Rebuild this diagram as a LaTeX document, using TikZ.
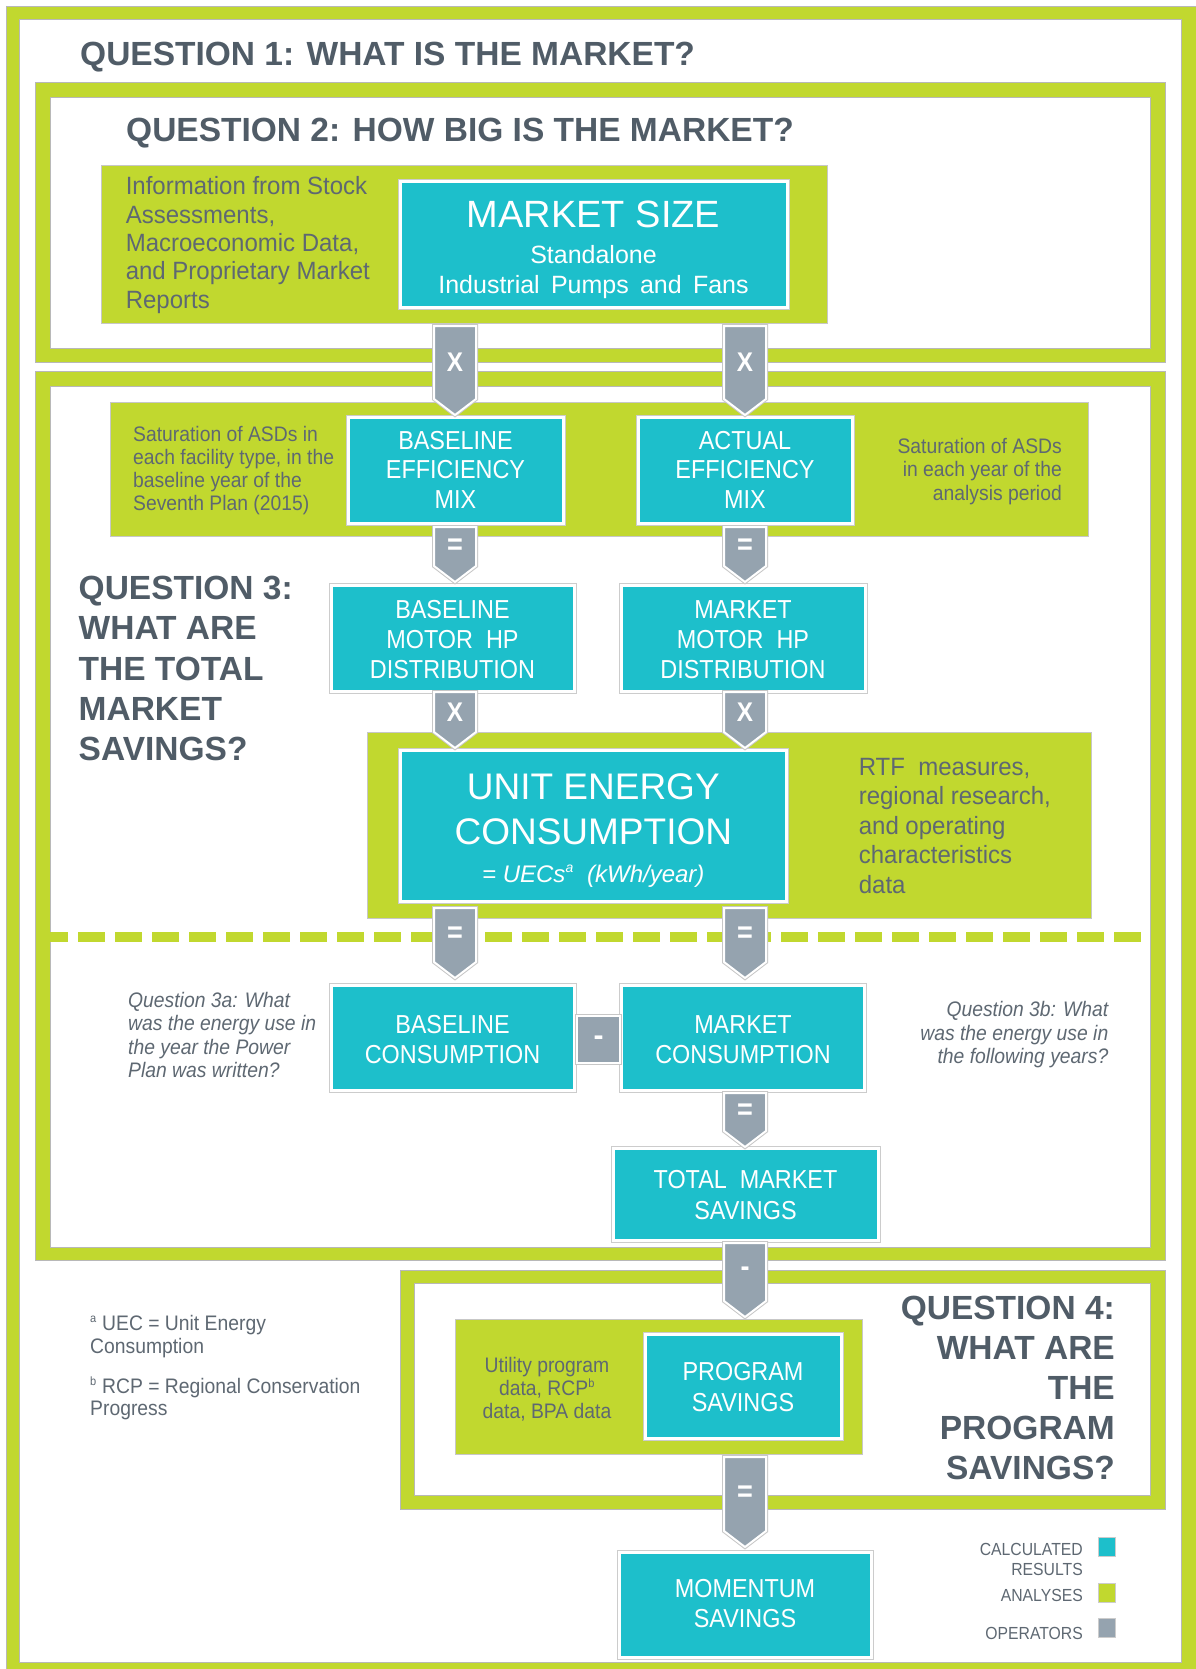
\documentclass[tikz,border=0pt]{standalone}
\usepackage{fontspec}
\setmainfont{Liberation Sans}
\newfontfamily\nar[FakeStretch=0.9]{Liberation Sans}
\newfontfamily\nars[FakeStretch=0.92]{Liberation Sans}
\newfontfamily\narb[FakeStretch=0.96]{Liberation Sans}
\definecolor{lime}{HTML}{C1D82F}
\definecolor{tealc}{HTML}{1DBFCB}
\definecolor{opg}{HTML}{95A3AF}
\definecolor{ttl}{HTML}{505C67}
\definecolor{txg}{HTML}{5E6872}
\newcommand\calcbox[5]{\node[calc, minimum width={#4-#2}, minimum height={#5-#3}] (#1) at ({(#2+#4)/2},{(#3+#5)/2}) {};}
\newcommand\anabox[5]{\node[ana, minimum width={#4-#2}, minimum height={#5-#3}] (#1) at ({(#2+#4)/2},{(#3+#5)/2}) {};}
\newcommand\oper[5]{%
  \draw[op] ({#2-21},#3) -- ({#2+21},#3) -- ({#2+21},{#4-16}) -- (#2,#4) -- ({#2-21},{#4-16}) -- cycle;
  \node[oplab] (#1) at (#2,{(#3+#4-16)/2}) {#5};}
\begin{document}
\begin{tikzpicture}[x=1pt,y=-1pt,
  frame/.style={fill=lime, draw=black!28, line width=0.8},
  inner/.style={fill=white, draw=black!28, line width=0.8},
  ana/.style={fill=lime, draw=black!22, line width=0.8, inner sep=0},
  calc/.style={fill=tealc, draw=white, line width=3, inner sep=0, preaction={draw=black!20, line width=5}},
  op/.style={fill=opg, draw=white, line width=2, preaction={draw=black!22, line width=4}},
  oplab/.style={text=white, inner sep=0, font=\nar\fontsize{27}{27}\selectfont\bfseries},
  opbold/.style={font=\fontsize{30}{30}\selectfont\bfseries},
  ttlt/.style={text=ttl, inner sep=0, font=\fontsize{33.5}{40}\selectfont\bfseries},
  calct/.style={text=white, inner sep=0, anchor=base, font=\nar\fontsize{26}{30}\selectfont},
  anat/.style={text=txg, inner sep=0, font=\narb\fontsize{25}{28}\selectfont},
  smt/.style={text=txg, inner sep=0, font=\nars\fontsize{21}{23}\selectfont},
  legt/.style={text=txg, inner sep=0, anchor=base east, font=\nar\fontsize{17.5}{20}\selectfont}]
\useasboundingbox (0,0) rectangle (1195,1669);
% outer frame (Question 1)
\fill[lime] (6,6) rectangle (1200,1675);
\draw[black!28, line width=0.8] (6,6) -- (1200,6) (6,6) -- (6,1675);
\draw[inner] (19,19) rectangle (1181,1662);
% Question 2 frame
\draw[frame] (35,82) rectangle (1165,362);
\draw[inner] (50,97) rectangle (1150,348);
% Question 3 frame
\draw[frame] (35,371) rectangle (1165,1260);
\draw[inner] (50,386) rectangle (1150,1247);
\draw[lime, line width=10, dash pattern=on 27pt off 10pt, dash phase=9pt] (50,937) -- (1150,937);
% Question 4 frame
\draw[frame] (400,1270) rectangle (1165,1509);
\draw[inner] (414.6,1283) rectangle (1150,1495);
% analyses
\anabox{a1}{101}{165}{827}{323}
\anabox{a2}{110}{402}{1088}{536}
\anabox{a3}{367.6}{732}{1091}{918}
\anabox{a4}{455}{1319}{862}{1454}
% calculated results
\calcbox{mkt}{400}{182}{787}{308}
\calcbox{be}{348}{417}{563}{523}
\calcbox{ae}{638}{417}{852}{523}
\calcbox{bm}{331}{585}{574}{691}
\calcbox{mm}{621}{585}{865}{691}
\calcbox{uec}{400.6}{750}{786}{901}
\calcbox{bc}{331}{985}{574}{1090}
\calcbox{mc}{621}{985}{864.5}{1090}
\calcbox{tms}{613}{1148}{878}{1240}
\calcbox{ps}{645}{1334}{841.7}{1438}
\calcbox{ms}{619}{1552}{871}{1657}
% operators
\oper{o1}{455}{326}{415}{X}
\oper{o2}{745}{326}{415}{X}
\oper{o3}{455}{527}{582}{\fontsize{30}{30}\selectfont =}
\oper{o4}{745}{527}{582}{\fontsize{30}{30}\selectfont =}
\oper{o5}{455}{692}{748}{X}
\oper{o6}{745}{692}{748}{X}
\oper{o7}{455}{908}{978}{\fontsize{30}{30}\selectfont =}
\oper{o8}{745}{908}{978}{\fontsize{30}{30}\selectfont =}
\draw[op] (577,1016) rectangle (620,1063);
\node[oplab, opbold] (o9) at (598.5,1041) {-};
\oper{o10}{745}{1093}{1147}{\fontsize{30}{30}\selectfont =}
\oper{o11}{745}{1243}{1317}{\fontsize{30}{30}\selectfont -}
\oper{o12}{745}{1457}{1547}{\fontsize{30}{30}\selectfont =}
% titles
\node[ttlt, anchor=base west] (q1) at (80,66) {QUESTION 1: WHAT IS THE MARKET?};
\node[ttlt, anchor=base west] (q2) at (126,142) {QUESTION 2: HOW BIG IS THE MARKET?};
\foreach \t [count=\i from 0] in {QUESTION 3:,WHAT ARE,THE TOTAL,MARKET,SAVINGS?}
  \node[ttlt, anchor=base west] (q3-\i) at (78.5,{599.5+40.3*\i}) {\t};
\foreach \t [count=\i from 0] in {QUESTION 4:,WHAT ARE,THE,PROGRAM,SAVINGS?}
  \node[ttlt, anchor=base east] (q4-\i) at (1115,{1319+40*\i}) {\t};
% analysis texts
\foreach \t [count=\i from 0] in {Information from Stock,{Assessments,},{Macroeconomic Data,},and Proprietary Market,Reports}
  \node[anat, anchor=base west] (a1t-\i) at (125.6,{195+28.3*\i}) {\t};
\foreach \t [count=\i from 0] in {Saturation of ASDs in,{each facility type, in the},baseline year of the,Seventh Plan (2015)}
  \node[smt, anchor=base west] (a2l-\i) at (133,{441+23*\i}) {\t};
\foreach \t [count=\i from 0] in {Saturation of ASDs,in each year of the,analysis period}
  \node[smt, anchor=base east] (a2r-\i) at (1062,{453+23.5*\i}) {\t};
\foreach \t [count=\i from 0] in {{RTF\ \ measures,},{regional research,},and operating,characteristics,data}
  \node[anat, anchor=base west] (a3t-\i) at (858.6,{775+29.5*\i}) {\t};
\foreach \t [count=\i from 0] in {Utility program,{data, RCP\textsuperscript{\fontsize{12}{12}\selectfont b}},{data, BPA data}}
  \node[smt, anchor=base] (a4t-\i) at (547,{1372+23*\i}) {\t};
\foreach \t [count=\i from 0] in {Question 3a: What,was the energy use in,the year the Power,Plan was written?}
  \node[smt, font=\nars\fontsize{21}{23}\selectfont\itshape, anchor=base west] (q3a-\i) at (128,{1007.5+23.3*\i}) {\t};
\foreach \t [count=\i from 0] in {Question 3b: What,was the energy use in,the following years?}
  \node[smt, font=\nars\fontsize{21}{23}\selectfont\itshape, anchor=base east] (q3b-\i) at (1108.5,{1016.5+23.5*\i}) {\t};
% footnotes
\node[smt, anchor=base west] (fa1) at (90,1330.5) {\textsuperscript{\fontsize{12}{12}\selectfont a} UEC = Unit Energy};
\node[smt, anchor=base west] (fa2) at (90,1353.5) {Consumption};
\node[smt, anchor=base west] (fb1) at (90,1393.5) {\textsuperscript{\fontsize{12}{12}\selectfont b} RCP = Regional Conservation};
\node[smt, anchor=base west] (fb2) at (90,1415.5) {Progress};
% calculated result texts
\node[calct, font=\fontsize{38}{40}\selectfont] (mkt-1) at (593.5,228) {MARKET SIZE};
\node[calct, font=\fontsize{25}{28}\selectfont] (mkt-2) at (593.5,264) {Standalone};
\node[calct, font=\fontsize{25}{28}\selectfont] (mkt-3) at (593.5,294) {Industrial\hspace{0.45em}Pumps\hspace{0.45em}and\hspace{0.45em}Fans};
\foreach \t [count=\i from 0] in {BASELINE,EFFICIENCY,MIX}
  \node[calct] (be-\i) at (455.5,{449+29.5*\i}) {\t};
\foreach \t [count=\i from 0] in {ACTUAL,EFFICIENCY,MIX}
  \node[calct] (ae-\i) at (745,{449+29.5*\i}) {\t};
\foreach \t [count=\i from 0] in {BASELINE,MOTOR\ \ HP,DISTRIBUTION}
  \node[calct] (bm-\i) at (452.5,{618+30*\i}) {\t};
\foreach \t [count=\i from 0] in {MARKET,MOTOR\ \ HP,DISTRIBUTION}
  \node[calct] (mm-\i) at (743,{618+30*\i}) {\t};
\node[calct, font=\fontsize{37}{40}\selectfont] (uec-1) at (593.3,799) {UNIT ENERGY};
\node[calct, font=\fontsize{37}{40}\selectfont] (uec-2) at (593.3,844) {CONSUMPTION};
\node[calct, font=\fontsize{24}{26}\selectfont\itshape] (uec-3) at (593.3,882) {= UECs\textsuperscript{\fontsize{14}{14}\selectfont a}\ \ (kWh/year)};
\foreach \t [count=\i from 0] in {BASELINE,CONSUMPTION}
  \node[calct] (bc-\i) at (452.5,{1033+30*\i}) {\t};
\foreach \t [count=\i from 0] in {MARKET,CONSUMPTION}
  \node[calct] (mc-\i) at (743,{1033+30*\i}) {\t};
\foreach \t [count=\i from 0] in {TOTAL\ \ MARKET,SAVINGS}
  \node[calct] (tms-\i) at (745.5,{1188+31*\i}) {\t};
\foreach \t [count=\i from 0] in {PROGRAM,SAVINGS}
  \node[calct] (ps-\i) at (743,{1380+31*\i}) {\t};
\foreach \t [count=\i from 0] in {MOMENTUM,SAVINGS}
  \node[calct] (ms-\i) at (745,{1597+30*\i}) {\t};
% legend
\draw[fill=tealc, draw=black!20, line width=0.6] (1098,1537) rectangle (1115,1556);
\draw[fill=lime, draw=black!20, line width=0.6] (1098,1583) rectangle (1115,1602);
\draw[fill=opg, draw=black!20, line width=0.6] (1098,1618) rectangle (1115,1637);
\node[legt] (l1) at (1083,1555.5) {CALCULATED};
\node[legt] (l2) at (1083,1575.5) {RESULTS};
\node[legt] (l3) at (1083,1601.5) {ANALYSES};
\node[legt] (l4) at (1083,1639.5) {OPERATORS};
\end{tikzpicture}
\end{document}
